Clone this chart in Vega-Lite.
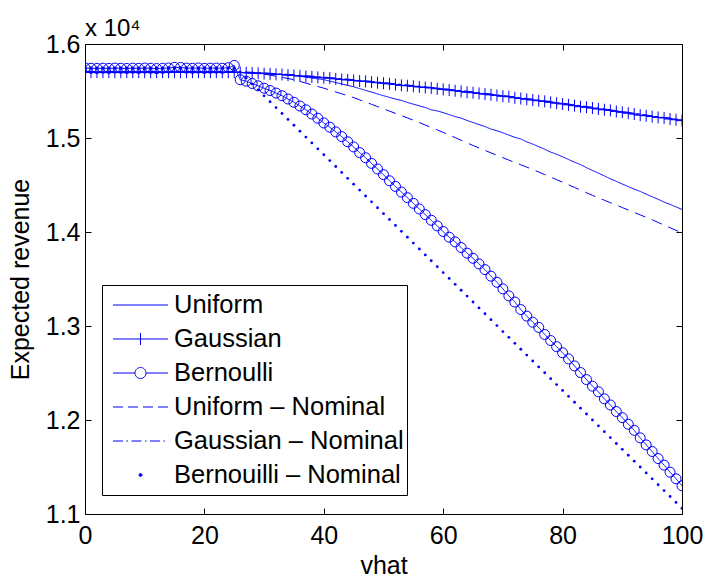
{
  "$schema": "https://vega.github.io/schema/vega-lite/v6.json",
  "width": 597,
  "height": 470,
  "autosize": {"type": "none"},
  "padding": {"left": 85, "top": 44, "right": 22, "bottom": 65},
  "background": "#ffffff",
  "title": {"text": "x 10⁴", "anchor": "start", "frame": "group", "offset": 4, "dy": 32, "fontSize": 24, "font": "Liberation Sans", "fontWeight": "normal", "color": "#000000", "baseline": "alphabetic"},
  "config": {
    "view": {"stroke": "#000000", "strokeWidth": 1},
    "axis": {"domain": false, "grid": false, "tickColor": "#000000", "tickSize": -6, "tickWidth": 1, "labelFont": "Liberation Sans", "labelFontSize": 25, "labelColor": "#000000", "titleFont": "Liberation Sans", "titleFontSize": 25, "titleFontWeight": "normal", "titleColor": "#000000", "labelFlush": false, "labelOverlap": false}
  },
  "data": {"values": [
    {"v":0,"U":15700,"G":15700,"B":15745,"UN":15700,"GN":15708,"BN":15742},
    {"v":1,"U":15700,"G":15700,"B":15742,"UN":15700,"GN":15708,"BN":15742},
    {"v":2,"U":15700,"G":15700,"B":15740,"UN":15700,"GN":15708,"BN":15742},
    {"v":3,"U":15700,"G":15700,"B":15743,"UN":15700,"GN":15708,"BN":15742},
    {"v":4,"U":15700,"G":15700,"B":15741,"UN":15700,"GN":15708,"BN":15742},
    {"v":5,"U":15700,"G":15700,"B":15744,"UN":15700,"GN":15708,"BN":15742},
    {"v":6,"U":15700,"G":15700,"B":15742,"UN":15700,"GN":15708,"BN":15742},
    {"v":7,"U":15700,"G":15700,"B":15740,"UN":15700,"GN":15708,"BN":15742},
    {"v":8,"U":15700,"G":15700,"B":15743,"UN":15700,"GN":15708,"BN":15742},
    {"v":9,"U":15700,"G":15700,"B":15741,"UN":15700,"GN":15708,"BN":15742},
    {"v":10,"U":15700,"G":15700,"B":15744,"UN":15700,"GN":15708,"BN":15742},
    {"v":11,"U":15700,"G":15700,"B":15742,"UN":15700,"GN":15708,"BN":15742},
    {"v":12,"U":15700,"G":15700,"B":15739,"UN":15700,"GN":15708,"BN":15742},
    {"v":13,"U":15700,"G":15700,"B":15742,"UN":15700,"GN":15708,"BN":15742},
    {"v":14,"U":15700,"G":15700,"B":15745,"UN":15700,"GN":15708,"BN":15742},
    {"v":15,"U":15700,"G":15700,"B":15752,"UN":15700,"GN":15708,"BN":15742},
    {"v":16,"U":15700,"G":15700,"B":15750,"UN":15700,"GN":15708,"BN":15742},
    {"v":17,"U":15700,"G":15700,"B":15744,"UN":15700,"GN":15708,"BN":15742},
    {"v":18,"U":15700,"G":15700,"B":15742,"UN":15700,"GN":15708,"BN":15742},
    {"v":19,"U":15700,"G":15700,"B":15745,"UN":15700,"GN":15708,"BN":15742},
    {"v":20,"U":15700,"G":15700,"B":15741,"UN":15700,"GN":15708,"BN":15742},
    {"v":21,"U":15700,"G":15700,"B":15743,"UN":15700,"GN":15708,"BN":15742},
    {"v":22,"U":15700,"G":15700,"B":15744,"UN":15700,"GN":15708,"BN":15742},
    {"v":23,"U":15700,"G":15700,"B":15742,"UN":15700,"GN":15708,"BN":15742},
    {"v":24,"U":15700,"G":15700,"B":15748,"UN":15700,"GN":15708,"BN":15742},
    {"v":25,"U":15700,"G":15700,"B":15772,"UN":15700,"GN":15708,"BN":15742},
    {"v":26,"U":15698,"G":15697,"B":15620,"UN":15697,"GN":15705,"BN":15700},
    {"v":27,"U":15696,"G":15694,"B":15605,"UN":15694,"GN":15702,"BN":15637},
    {"v":28,"U":15694,"G":15691,"B":15580,"UN":15690,"GN":15699,"BN":15575},
    {"v":29,"U":15692,"G":15688,"B":15555,"UN":15685,"GN":15696,"BN":15512},
    {"v":30,"U":15690,"G":15685,"B":15530,"UN":15680,"GN":15693,"BN":15449},
    {"v":31,"U":15685,"G":15681,"B":15505,"UN":15669,"GN":15689,"BN":15386},
    {"v":32,"U":15680,"G":15677,"B":15478,"UN":15657,"GN":15685,"BN":15324},
    {"v":33,"U":15675,"G":15676,"B":15450,"UN":15645,"GN":15681,"BN":15261},
    {"v":34,"U":15670,"G":15669,"B":15415,"UN":15633,"GN":15677,"BN":15198},
    {"v":35,"U":15665,"G":15665,"B":15380,"UN":15620,"GN":15673,"BN":15136},
    {"v":36,"U":15656,"G":15660,"B":15340,"UN":15602,"GN":15668,"BN":15073},
    {"v":37,"U":15647,"G":15655,"B":15300,"UN":15584,"GN":15663,"BN":15010},
    {"v":38,"U":15638,"G":15650,"B":15255,"UN":15566,"GN":15658,"BN":14948},
    {"v":39,"U":15629,"G":15645,"B":15210,"UN":15548,"GN":15653,"BN":14885},
    {"v":40,"U":15620,"G":15640,"B":15160,"UN":15530,"GN":15648,"BN":14822},
    {"v":41,"U":15605,"G":15637,"B":15115,"UN":15510,"GN":15642,"BN":14760},
    {"v":42,"U":15590,"G":15629,"B":15065,"UN":15490,"GN":15637,"BN":14697},
    {"v":43,"U":15575,"G":15623,"B":15015,"UN":15470,"GN":15631,"BN":14634},
    {"v":44,"U":15560,"G":15618,"B":14960,"UN":15450,"GN":15626,"BN":14571},
    {"v":45,"U":15545,"G":15612,"B":14905,"UN":15430,"GN":15620,"BN":14509},
    {"v":46,"U":15526,"G":15606,"B":14845,"UN":15406,"GN":15614,"BN":14446},
    {"v":47,"U":15507,"G":15603,"B":14790,"UN":15382,"GN":15608,"BN":14383},
    {"v":48,"U":15488,"G":15594,"B":14730,"UN":15358,"GN":15602,"BN":14321},
    {"v":49,"U":15469,"G":15588,"B":14670,"UN":15334,"GN":15596,"BN":14258},
    {"v":50,"U":15450,"G":15582,"B":14610,"UN":15310,"GN":15590,"BN":14195},
    {"v":51,"U":15432,"G":15576,"B":14545,"UN":15286,"GN":15584,"BN":14133},
    {"v":52,"U":15414,"G":15569,"B":14485,"UN":15262,"GN":15577,"BN":14070},
    {"v":53,"U":15400,"G":15560,"B":14425,"UN":15238,"GN":15571,"BN":14007},
    {"v":54,"U":15378,"G":15556,"B":14365,"UN":15214,"GN":15564,"BN":13945},
    {"v":55,"U":15360,"G":15550,"B":14305,"UN":15190,"GN":15558,"BN":13882},
    {"v":56,"U":15342,"G":15543,"B":14245,"UN":15164,"GN":15551,"BN":13819},
    {"v":57,"U":15324,"G":15537,"B":14185,"UN":15138,"GN":15545,"BN":13756},
    {"v":58,"U":15300,"G":15533,"B":14125,"UN":15112,"GN":15538,"BN":13694},
    {"v":59,"U":15288,"G":15524,"B":14065,"UN":15086,"GN":15532,"BN":13631},
    {"v":60,"U":15270,"G":15517,"B":14005,"UN":15060,"GN":15525,"BN":13568},
    {"v":61,"U":15249,"G":15510,"B":13945,"UN":15032,"GN":15518,"BN":13506},
    {"v":62,"U":15228,"G":15503,"B":13895,"UN":15004,"GN":15511,"BN":13443},
    {"v":63,"U":15212,"G":15496,"B":13835,"UN":14976,"GN":15504,"BN":13380},
    {"v":64,"U":15186,"G":15486,"B":13775,"UN":14948,"GN":15497,"BN":13318},
    {"v":65,"U":15165,"G":15482,"B":13720,"UN":14920,"GN":15490,"BN":13255},
    {"v":66,"U":15143,"G":15474,"B":13660,"UN":14894,"GN":15482,"BN":13192},
    {"v":67,"U":15121,"G":15467,"B":13600,"UN":14868,"GN":15475,"BN":13130},
    {"v":68,"U":15095,"G":15459,"B":13530,"UN":14842,"GN":15467,"BN":13067},
    {"v":69,"U":15077,"G":15452,"B":13465,"UN":14816,"GN":15460,"BN":13004},
    {"v":70,"U":15055,"G":15444,"B":13395,"UN":14790,"GN":15452,"BN":12941},
    {"v":71,"U":15031,"G":15439,"B":13320,"UN":14765,"GN":15444,"BN":12879},
    {"v":72,"U":15007,"G":15428,"B":13255,"UN":14740,"GN":15436,"BN":12816},
    {"v":73,"U":14990,"G":15420,"B":13175,"UN":14715,"GN":15428,"BN":12753},
    {"v":74,"U":14959,"G":15412,"B":13105,"UN":14690,"GN":15420,"BN":12691},
    {"v":75,"U":14935,"G":15404,"B":13040,"UN":14665,"GN":15412,"BN":12628},
    {"v":76,"U":14908,"G":15396,"B":12985,"UN":14638,"GN":15404,"BN":12565},
    {"v":77,"U":14881,"G":15390,"B":12910,"UN":14611,"GN":15395,"BN":12503},
    {"v":78,"U":14850,"G":15379,"B":12845,"UN":14584,"GN":15387,"BN":12440},
    {"v":79,"U":14827,"G":15370,"B":12780,"UN":14557,"GN":15378,"BN":12377},
    {"v":80,"U":14800,"G":15362,"B":12715,"UN":14530,"GN":15370,"BN":12315},
    {"v":81,"U":14771,"G":15353,"B":12650,"UN":14502,"GN":15361,"BN":12252},
    {"v":82,"U":14742,"G":15344,"B":12575,"UN":14474,"GN":15352,"BN":12189},
    {"v":83,"U":14718,"G":15333,"B":12505,"UN":14446,"GN":15344,"BN":12126},
    {"v":84,"U":14684,"G":15327,"B":12430,"UN":14418,"GN":15335,"BN":12064},
    {"v":85,"U":14655,"G":15318,"B":12360,"UN":14390,"GN":15326,"BN":12001},
    {"v":86,"U":14626,"G":15309,"B":12300,"UN":14364,"GN":15317,"BN":11938},
    {"v":87,"U":14597,"G":15300,"B":12225,"UN":14338,"GN":15308,"BN":11876},
    {"v":88,"U":14566,"G":15294,"B":12160,"UN":14312,"GN":15299,"BN":11813},
    {"v":89,"U":14539,"G":15282,"B":12090,"UN":14286,"GN":15290,"BN":11750},
    {"v":90,"U":14510,"G":15273,"B":12025,"UN":14260,"GN":15281,"BN":11688},
    {"v":91,"U":14483,"G":15264,"B":11955,"UN":14234,"GN":15272,"BN":11625},
    {"v":92,"U":14456,"G":15255,"B":11890,"UN":14208,"GN":15263,"BN":11562},
    {"v":93,"U":14432,"G":15243,"B":11810,"UN":14182,"GN":15254,"BN":11500},
    {"v":94,"U":14402,"G":15237,"B":11735,"UN":14156,"GN":15245,"BN":11437},
    {"v":95,"U":14375,"G":15228,"B":11665,"UN":14130,"GN":15236,"BN":11374},
    {"v":96,"U":14348,"G":15219,"B":11590,"UN":14102,"GN":15227,"BN":11311},
    {"v":97,"U":14318,"G":15214,"B":11520,"UN":14074,"GN":15219,"BN":11249},
    {"v":98,"U":14294,"G":15202,"B":11445,"UN":14046,"GN":15210,"BN":11186},
    {"v":99,"U":14267,"G":15194,"B":11375,"UN":14018,"GN":15202,"BN":11123},
    {"v":100,"U":14240,"G":15185,"B":11300,"UN":13990,"GN":15193,"BN":11061}
  ]},
  "transform": [{"fold": ["U", "G", "B", "UN", "GN", "BN"], "as": ["series", "rev"]}],
  "layer": [
    {
      "transform": [{"filter": "datum.series !== 'BN'"}],
      "mark": {"type": "line", "strokeWidth": 1, "clip": true},
      "encoding": {
        "x": {"field": "v", "type": "quantitative", "scale": {"domain": [0, 100], "nice": false},
              "axis": {"orient": "bottom", "values": [0, 20, 40, 60, 80, 100], "title": "vhat", "labelPadding": 15, "titlePadding": 5}},
        "y": {"field": "rev", "type": "quantitative", "scale": {"domain": [11000, 16000], "nice": false, "zero": false},
              "axis": {"orient": "left", "values": [11000, 12000, 13000, 14000, 15000, 16000], "labelExpr": "format(datum.value/10000, '.1f')", "title": "Expected revenue", "labelPadding": 11, "titlePadding": 12}},
        "color": {"field": "series", "type": "nominal",
                  "scale": {"domain": ["U", "G", "B", "UN", "GN", "BN"], "range": ["#0000ff", "#0000ff", "#0000ff", "#0000ff", "#0000ff", "#0000ff"]},
                  "legend": {
                    "title": null, "orient": "none", "legendX": 17, "legendY": 241, "direction": "vertical",
                    "padding": 3, "rowPadding": 0, "clipHeight": 34, "symbolSize": 900, "symbolOffset": 20, "labelOffset": 18,
                    "symbolStrokeWidth": 1, "labelFont": "Liberation Sans", "labelFontSize": 25.5, "labelColor": "#000000", "labelLimit": 500,
                    "strokeColor": "#000000", "fillColor": "#ffffff",
                    "labelExpr": "['Uniform','Gaussian','Bernoulli','Uniform – Nominal','Gaussian – Nominal','Bernouilli – Nominal'][indexof(['U','G','B','UN','GN','BN'], datum.value)]",
                    "encode": {"symbols": {"update": {
                      "shape": {"signal": "['M-1.833,0L1.833,0','M-1.833,0L1.833,0M0,-0.4L0,0.4','M-1.833,0L-0.367,0M0.367,0L1.833,0M0.367,0A0.367,0.367,0,1,1,-0.367,0A0.367,0.367,0,1,1,0.367,0Z','M-1.833,0L-1.167,0M-0.833,0L-0.167,0M0.167,0L0.833,0M1.167,0L1.833,0','M-1.833,0L-1.167,0M-0.933,0L-0.833,0M-0.6,0L0.067,0M0.3,0L0.4,0M0.633,0L1.3,0M1.533,0L1.633,0','M0.1,0A0.1,0.1,0,1,1,-0.1,0A0.1,0.1,0,1,1,0.1,0Z'][indexof(['U','G','B','UN','GN','BN'], datum.value)]"},
                      "fill": {"signal": "datum.value === 'BN' ? '#0000ff' : 'transparent'"},
                      "stroke": {"value": "#0000ff"},
                      "strokeWidth": {"value": 1},
                      "opacity": {"value": 1}
                    }}}
                  }},
        "strokeDash": {"field": "series", "type": "nominal",
                       "scale": {"domain": ["U", "G", "B", "UN", "GN", "BN"], "range": [[1, 0], [1, 0], [1, 0], [11, 7], [10, 4, 2, 4], [1, 0]]},
                       "legend": null}
      }
    },
    {
      "transform": [{"filter": "datum.series === 'G'"}],
      "mark": {"type": "point", "shape": "M-1,0L1,0M0,-1L0,1", "size": 144, "filled": false, "color": "#0000ff", "strokeWidth": 1, "opacity": 1, "clip": true},
      "encoding": {
        "x": {"field": "v", "type": "quantitative", "axis": {"orient": "top", "labels": false, "title": null, "values": [0, 20, 40, 60, 80, 100]}},
        "y": {"field": "rev", "type": "quantitative", "axis": {"orient": "right", "labels": false, "title": null, "values": [11000, 12000, 13000, 14000, 15000, 16000]}}
      }
    },
    {
      "transform": [{"filter": "datum.series === 'B'"}],
      "mark": {"type": "point", "shape": "circle", "size": 100, "filled": false, "color": "#0000ff", "strokeWidth": 1, "opacity": 1, "clip": true},
      "encoding": {
        "x": {"field": "v", "type": "quantitative", "axis": null},
        "y": {"field": "rev", "type": "quantitative", "axis": null}
      }
    },
    {
      "transform": [{"filter": "datum.series === 'BN'"}],
      "mark": {"type": "point", "shape": "circle", "size": 8, "filled": true, "color": "#0000ff", "opacity": 1, "clip": true},
      "encoding": {
        "x": {"field": "v", "type": "quantitative", "axis": null},
        "y": {"field": "rev", "type": "quantitative", "axis": null}
      }
    }
  ]
}
